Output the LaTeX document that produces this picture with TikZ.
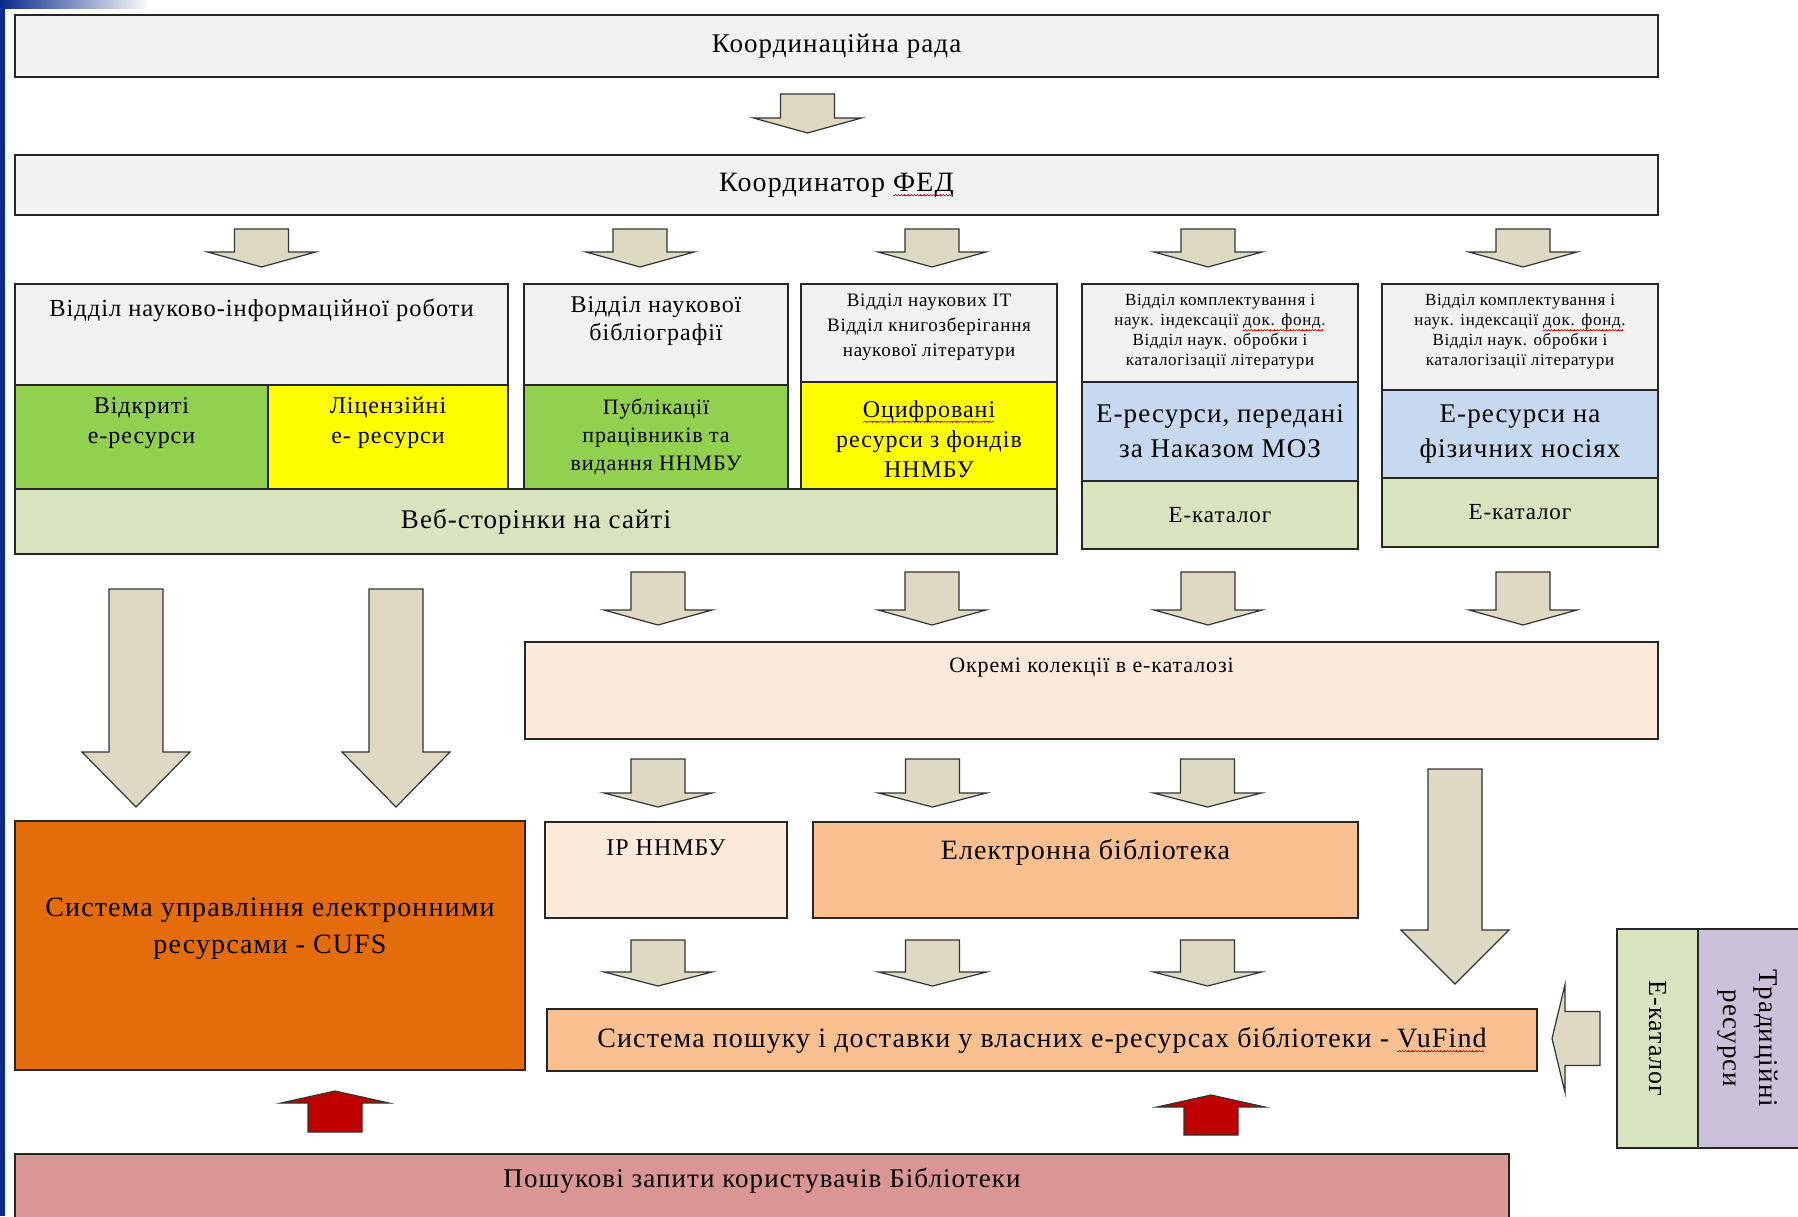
\documentclass[tikz,border=0pt]{standalone}
\usepackage{fontspec}
\setmainfont{Liberation Serif}[LetterSpace=4]
\usetikzlibrary{calc,positioning}

\definecolor{lgray}{HTML}{F2F2F2}
\definecolor{lgreen}{HTML}{92D050}
\definecolor{yel}{HTML}{FFFF00}
\definecolor{olive}{HTML}{D7E4BD}
\definecolor{lblue}{HTML}{C6D9F1}
\definecolor{peach}{HTML}{FDEADA}
\definecolor{apricot}{HTML}{FAC090}
\definecolor{rust}{HTML}{E46C0A}
\definecolor{rose}{HTML}{D99694}
\definecolor{lilac}{HTML}{CCC1DA}
\definecolor{arrfill}{HTML}{DDD9C3}
\definecolor{darkred}{HTML}{C00000}
\definecolor{slideblue}{HTML}{0A2A8C}

% red wavy underline of the spell checker
\newcommand{\spellerr}[1]{\setbox0=\hbox{#1}%
  \rlap{\raisebox{-5pt}[0pt][0pt]{\color{red}\leaders\hbox{\rule{0.8pt}{0.7pt}\rule[0.6pt]{0.8pt}{0.7pt}\rule[1.2pt]{0.8pt}{0.7pt}\rule[0.6pt]{0.8pt}{0.7pt}}\hskip\wd0}}%
  \box0}

\begin{document}
\begin{tikzpicture}[x=1pt,y=-1pt,
box/.style={draw=black!85, line width=2pt, anchor=north west, inner sep=0pt, align=center},
lbl/.style={align=center, inner sep=0pt},
blk/.style={draw=black!80, line width=1.2pt, fill=arrfill, line join=miter,
  to path={($(\tikztostart)!27pt!90:(\tikztotarget)$)
    -- ($(\tikztotarget)!#1!(\tikztostart)!27pt!90:(\tikztotarget)$)
    -- ($(\tikztotarget)!#1!(\tikztostart)!54pt!90:(\tikztotarget)$)
    -- (\tikztotarget)
    -- ($(\tikztotarget)!#1!(\tikztostart)!54pt!-90:(\tikztotarget)$)
    -- ($(\tikztotarget)!#1!(\tikztostart)!27pt!-90:(\tikztotarget)$)
    -- ($(\tikztostart)!27pt!-90:(\tikztotarget)$) -- cycle}},
blk/.default=15pt]
\useasboundingbox (0,0) rectangle (1798,1216);
\clip (0,0) rectangle (1798,1216);
\fill[slideblue] (0,0) rectangle (5,1216);
\shade[left color=slideblue, right color=white] (0,0) rectangle (150,8);

% top level
\node[box, fill=lgray, minimum width=1643, minimum height=62, font=\fontsize{27}{32}\selectfont] (rada) at (14,14) {Координаційна рада};
\node[box, fill=lgray, minimum width=1643, minimum height=60, font=\fontsize{28}{32}\selectfont] (koord) at (14,154) {Координатор \spellerr{ФЕД}};

% departments
\node[box, fill=lgray, minimum width=493, minimum height=101] (aTop) at (14,283) {};
\node[box, fill=lgreen, minimum width=253, minimum height=104] (aGrn) at (14,384) {};
\node[box, fill=yel, minimum width=240, minimum height=104] (aYel) at (267,384) {};
\node[box, fill=lgray, minimum width=264, minimum height=101] (bTop) at (523,283) {};
\node[box, fill=lgreen, minimum width=264, minimum height=104] (bGrn) at (523,384) {};
\node[box, fill=lgray, minimum width=256, minimum height=98] (cTop) at (800,283) {};
\node[box, fill=yel, minimum width=256, minimum height=107] (cYel) at (800,381) {};
\node[box, fill=olive, minimum width=1042, minimum height=65, font=\fontsize{27}{32}\selectfont] (web) at (14,488) {Веб-сторінки на сайті};
\node[box, fill=lgray, minimum width=276, minimum height=98] (dTop) at (1081,283) {};
\node[box, fill=lblue, minimum width=276, minimum height=99, font=\fontsize{27}{35}\selectfont] (dBlu) at (1081,381) {Е-ресурси, передані\\за Наказом МОЗ};
\node[box, fill=olive, minimum width=276, minimum height=68, font=\fontsize{23}{28}\selectfont] (dCat) at (1081,480) {Е-каталог};
\node[box, fill=lgray, minimum width=276, minimum height=106] (eTop) at (1381,283) {};
\node[box, fill=lblue, minimum width=276, minimum height=88, font=\fontsize{27}{35}\selectfont] (eBlu) at (1381,389) {Е-ресурси на\\фізичних носіях};
\node[box, fill=olive, minimum width=276, minimum height=69, font=\fontsize{23}{28}\selectfont] (eCat) at (1381,477) {Е-каталог};

\node[lbl, font=\fontsize{24.5}{30}\selectfont] (aTopTxt) at ($(aTop.north)+(0,27)$) {Відділ науково-інформаційної роботи};
\node[lbl, font=\fontsize{24}{28}\selectfont] (bTopTxt) at ($(bTop.north)+(0,38)$) {Відділ наукової\\бібліографії};
\node[lbl, font=\fontsize{19}{25}\selectfont] (cTopTxt) at ($(cTop.north)+(0,44)$) {Відділ наукових IT\\Відділ книгозберігання\\наукової літератури};
\node[lbl, font=\fontsize{17}{20}\selectfont] (dTopTxt) at ($(dTop.north)+(0,49)$) {Відділ комплектування і\\наук. індексації \spellerr{док. фонд.}\\Відділ наук. обробки і\\каталогізації літератури};
\node[lbl, font=\fontsize{17}{20}\selectfont] (eTopTxt) at ($(eTop.north)+(0,49)$) {Відділ комплектування і\\наук. індексації \spellerr{док. фонд.}\\Відділ наук. обробки і\\каталогізації літератури};
\node[lbl, font=\fontsize{24}{30}\selectfont] (aGrnTxt) at ($(aGrn.north)+(0,39)$) {Відкриті\\е-ресурси};
\node[lbl, font=\fontsize{24}{30}\selectfont] (aYelTxt) at ($(aYel.north)+(0,39)$) {Ліцензійні\\е- ресурси};
\node[lbl, font=\fontsize{22}{28}\selectfont] (bGrnTxt) at (bGrn) {Публікації\\працівників та\\видання ННМБУ};
\node[lbl, font=\fontsize{24}{30}\selectfont] (cYelTxt) at ($(cYel)+(0,4)$) {\spellerr{Оцифровані}\\ресурси з фондів\\ННМБУ};

% collections and systems
\node[box, fill=peach, minimum width=1133, minimum height=97] (okremi) at (524,641) {};
\node[lbl, font=\fontsize{22}{26}\selectfont] (okremiTxt) at ($(okremi.north)+(0,27)$) {Окремі колекції в е-каталозі};
\node[box, fill=rust, minimum width=510, minimum height=249] (cufs) at (14,820) {};
\node[lbl, font=\fontsize{28}{37}\selectfont] (cufsTxt) at ($(cufs)+(0,-17)$) {Система управління електронними\\ресурсами - CUFS};
\node[box, fill=peach, minimum width=242, minimum height=96] (ip) at (544,821) {};
\node[lbl, font=\fontsize{24}{28}\selectfont] (ipTxt) at ($(ip.north)+(0,27)$) {ІР ННМБУ};
\node[box, fill=apricot, minimum width=545, minimum height=96] (elib) at (812,821) {};
\node[lbl, font=\fontsize{28}{32}\selectfont] (elibTxt) at ($(elib.north)+(0,31)$) {Електронна бібліотека};
\node[box, fill=apricot, minimum width=990, minimum height=62, font=\fontsize{28}{32}\selectfont] (vufind) at (546,1008) {Система пошуку і доставки у власних е-ресурсах бібліотеки - \spellerr{VuFind}};
\node[box, fill=rose, minimum width=1494, minimum height=100] (query) at (14,1153) {};
\node[lbl, font=\fontsize{27}{32}\selectfont] (queryTxt) at ($(query.north)+(0,28)$) {Пошукові запити користувачів Бібліотеки};
\node[box, fill=olive, minimum width=81, minimum height=219] (ecat) at (1616,928) {};
\node[lbl, font=\fontsize{26}{30}\selectfont, rotate=-90] (ecatTxt) at (ecat) {Е-каталог};
\node[box, fill=lilac, minimum width=130, minimum height=219] (trad) at (1697,928) {};
\node[lbl, font=\fontsize{27}{36}\selectfont, rotate=-90] (tradTxt) at ($(trad.west)+(51,0)$) {Традиційні\\ресурси};

% block arrows
\draw[blk] ($(rada.south)+(-29,16)$) to ($(koord.north)+(-29,-21)$);
\draw[blk] ($(koord.south -| aTop.north)+(0,13)$) to ($(aTop.north)+(0,-16)$);
\draw[blk] ($(koord.south -| bTop.north)+(-16,13)$) to ($(bTop.north)+(-16,-16)$);
\draw[blk] ($(koord.south -| cTop.north)+(3,13)$) to ($(cTop.north)+(3,-16)$);
\draw[blk] ($(koord.south -| dTop.north)+(-12,13)$) to ($(dTop.north)+(-12,-16)$);
\draw[blk] ($(koord.south -| eTop.north)+(3,13)$) to ($(eTop.north)+(3,-16)$);

\draw[blk] ($(web.south -| bGrn.south)+(2,17)$) to ($(okremi.north -| bGrn.south)+(2,-16)$);
\draw[blk] ($(web.south -| cYel.south)+(3,17)$) to ($(okremi.north -| cYel.south)+(3,-16)$);
\draw[blk] ($(dCat.south)+(-12,22)$) to ($(okremi.north -| dCat.south)+(-12,-16)$);
\draw[blk] ($(eCat.south)+(3,24)$) to ($(okremi.north -| eCat.south)+(3,-16)$);

\draw[blk=55pt] ($(web.south west)+(122,34)$) to ($(cufs.north west)+(122,-13)$);
\draw[blk=55pt] ($(web.south west)+(382,34)$) to ($(cufs.north west)+(382,-13)$);
\draw[blk=54pt] ($(okremi.south east)+(-204,29)$) to ($(vufind.north east)+(-83,-24)$);

\draw[blk=14pt] ($(okremi.south -| ip.north)+(-8,19)$) to ($(ip.north)+(-8,-14)$);
\draw[blk=14pt] ($(okremi.south -| elib.north)+(-153,19)$) to ($(elib.north)+(-153,-14)$);
\draw[blk=14pt] ($(okremi.south -| elib.north)+(122,19)$) to ($(elib.north)+(122,-14)$);

\draw[blk=14pt] ($(ip.south)+(-8,21)$) to ($(vufind.north -| ip.south)+(-8,-22)$);
\draw[blk=14pt] ($(elib.south)+(-153,21)$) to ($(vufind.north -| elib.south)+(-153,-22)$);
\draw[blk=14pt] ($(elib.south)+(122,21)$) to ($(vufind.north -| elib.south)+(122,-22)$);

\draw[blk=13pt] ($(ecat.west)+(-16,0)$) to ($(vufind.east |- ecat.west)+(14,0)$);

\draw[blk=12pt, fill=darkred] ($(query.north -| cufs.south)+(65,-21)$) to ($(cufs.south)+(65,20)$);
\draw[blk=12pt, fill=darkred] ($(query.north -| vufind.south)+(169,-18)$) to ($(vufind.south)+(169,23)$);
\end{tikzpicture}
\end{document}
